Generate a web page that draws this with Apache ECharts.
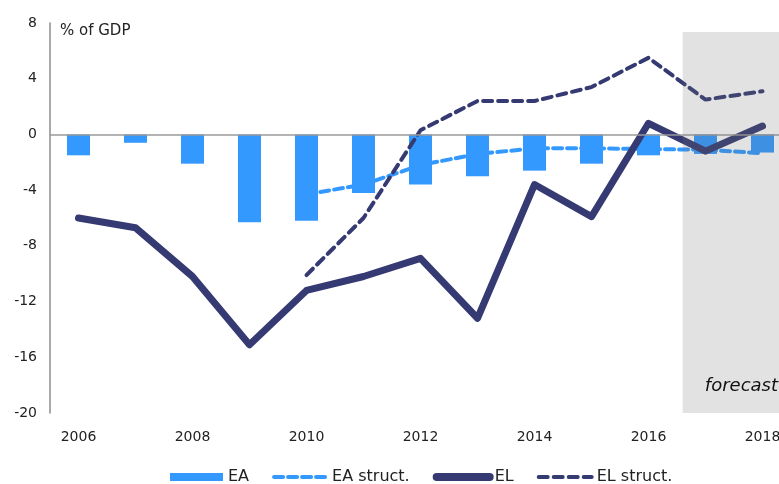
<!DOCTYPE html>
<html>
<head>
<meta charset="utf-8">
<script src="https://cdn.jsdelivr.net/npm/echarts@6/dist/echarts.min.js"></script>
<style>
    html, body {margin: 0; padding: 0; background: #fff;}
    #chart {width: 779px; height: 484px;}
</style>
</head>
<body>
<div id="chart"></div>
<script>
var years = ['2006', '2007', '2008', '2009', '2010', '2011', '2012', '2013', '2014', '2015', '2016', '2017', '2018'];
// % of GDP
var ea = [-1.5, -0.6, -2.1, -6.3, -6.2, -4.2, -3.6, -3.0, -2.6, -2.1, -1.5, -1.4, -1.3];
var eaStruct = ['-', '-', '-', '-', -4.3, -3.6, -2.2, -1.4, -1.0, -1.0, -1.05, -1.1, -1.35];
var el = [-6.0, -6.7, -10.2, -15.1, -11.2, -10.2, -8.9, -13.2, -3.6, -5.9, 0.8, -1.2, 0.6];
var elStruct = ['-', '-', '-', '-', -10.1, -6.0, 0.3, 2.4, 2.4, 3.4, 5.5, 2.5, 3.1];
// forecast band, in category index units / axis values
var forecastX = [10.6, 12.5];
var forecastY = [7.35, -20];

var font = 'DejaVu Sans';
var blue = '#3399ff';
var navy = '#353a72';

var chart = echarts.init(document.getElementById('chart'));
var option = {
    animation: false,
    textStyle: {fontFamily: font},
    grid: {left: 50, right: -12, top: 23, bottom: 71, outerBoundsMode: 'none', containLabel: false},
    legend: {
        left: 165,
        top: 464,
        itemWidth: 53,
        itemHeight: 8,
        itemGap: 23,
        itemStyle: {opacity: 0},
        textStyle: {fontSize: 16, color: '#222'},
        data: [
            {name: 'EA', icon: 'rect', itemStyle: {opacity: 1}},
            {name: 'EA struct.', lineStyle: {width: 4}},
            {name: 'EL', lineStyle: {width: 8}},
            {name: 'EL struct.', lineStyle: {width: 4}}
        ]
    },
    xAxis: [
        {
            type: 'category',
            data: years,
            axisLine: {show: false, onZero: false},
            axisTick: {show: false},
            axisLabel: {interval: 1, margin: 17, fontSize: 14, color: '#222'}
        },
        {
            // hidden value axis, only used to place the forecast band
            type: 'value',
            min: -0.5,
            max: 12.5,
            show: false
        }
    ],
    yAxis: {
        type: 'value',
        min: -20,
        max: 8,
        interval: 4,
        name: '% of GDP',
        nameLocation: 'end',
        nameGap: -8,
        nameTextStyle: {align: 'left', verticalAlign: 'middle', padding: [0, 0, 0, 10], fontSize: 15, color: '#222'},
        axisLine: {show: true, onZero: false, lineStyle: {color: '#8c8c8c', width: 1.5}},
        axisTick: {show: false},
        splitLine: {show: false},
        axisLabel: {margin: 13, fontSize: 14, color: '#222'}
    },
    series: [
        {
            name: 'EA struct.',
            type: 'line',
            data: eaStruct,
            symbol: 'none',
            lineStyle: {color: blue, width: 4, type: [9, 5], cap: 'round'},
            itemStyle: {color: blue}
        },
        {
            name: 'EA',
            type: 'bar',
            data: ea,
            barWidth: 23,
            itemStyle: {color: blue},
            markLine: {
                silent: true,
                symbol: 'none',
                label: {show: false},
                lineStyle: {color: '#9a9a9a', width: 1.5, type: 'solid'},
                data: [{yAxis: 0}]
            }
        },
        {
            name: 'EL',
            type: 'line',
            data: el,
            symbol: 'none',
            lineStyle: {color: navy, width: 7, cap: 'round', join: 'round'},
            itemStyle: {color: navy}
        },
        {
            name: 'EL struct.',
            type: 'line',
            data: elStruct,
            symbol: 'none',
            lineStyle: {color: navy, width: 4, type: [9, 6], cap: 'round'},
            itemStyle: {color: navy}
        },
        {
            name: 'forecast',
            type: 'line',
            xAxisIndex: 1,
            data: [],
            z: 10,
            silent: true,
            markArea: {
                silent: true,
                z: 10,
                itemStyle: {color: 'rgba(110,110,110,0.2)'},
                label: {
                    show: true,
                    position: 'insideBottomRight',
                    offset: [-8, -13],
                    fontSize: 18,
                    fontStyle: 'italic',
                    color: '#111',
                    fontFamily: font
                },
                data: [[
                    {name: 'forecast', xAxis: forecastX[0], yAxis: forecastY[0]},
                    {xAxis: forecastX[1], yAxis: forecastY[1]}
                ]]
            }
        }
    ]
};
chart.setOption(option);
</script>
</body>
</html>
